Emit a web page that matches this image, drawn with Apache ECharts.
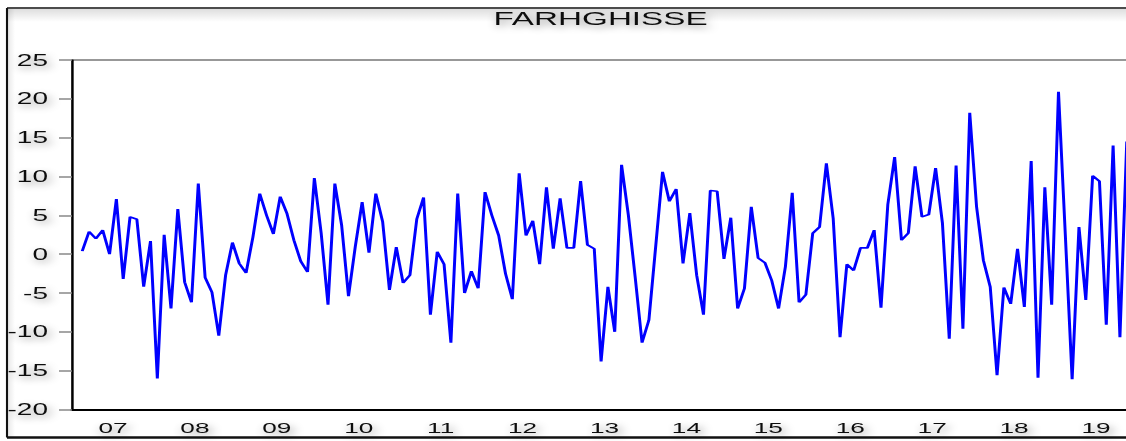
<!DOCTYPE html>
<html>
<head>
<meta charset="utf-8">
<script src="https://cdn.jsdelivr.net/npm/echarts@6/dist/echarts.min.js"></script>
<style>
html, body { margin: 0; padding: 0; overflow: hidden; background: #fff; width: 1126px; height: 441px; }
#wrap { width: 1126px; height: 441px; overflow: hidden; position: relative; }
#chart { width: 652px; height: 441px; transform: scaleX(1.75); transform-origin: 0 0; position: absolute; left: 0; top: 0; }
</style>
</head>
<body>
<div id="wrap"><div id="chart"></div></div>
<script>
// ---- data ----
const years = ['07', '08', '09', '10', '11', '12', '13', '14', '15', '16', '17', '18', '19'];
const months = [];
years.forEach(function (y) {
  for (let m = 1; m <= 12; m++) months.push('20' + y + 'M' + (m < 10 ? '0' + m : '' + m));
});
// FARHGHISSE, monthly from 2007M01 (first observation not available)
const farhghisse = [
  null, 0.4, 2.9, 2.0, 3.1, 0.0, 7.1, -3.2, 4.8, 4.5, -4.2, 1.7,
  -16.0, 2.5, -7.0, 5.8, -3.6, -6.2, 9.1, -3.0, -4.9, -10.5, -2.7, 1.5,
  -1.2, -2.4, 2.2, 7.8, 5.0, 2.6, 7.4, 5.2, 1.8, -0.9, -2.3, 9.8,
  2.7, -6.5, 9.1, 3.7, -5.4, 1.0, 6.7, 0.2, 7.8, 4.2, -4.6, 0.9,
  -3.7, -2.7, 4.5, 7.3, -7.8, 0.3, -1.3, -11.4, 7.8, -5.0, -2.2, -4.4,
  8.0, 5.0, 2.4, -2.5, -5.8, 10.4, 2.4, 4.3, -1.3, 8.6, 0.7, 7.2,
  0.8, 0.8, 9.4, 1.2, 0.7, -13.8, -4.2, -10.0, 11.5, 5.0, -3.0, -11.4,
  -8.5, 1.0, 10.6, 6.8, 8.4, -1.2, 5.3, -2.7, -7.8, 8.2, 8.1, -0.6,
  4.7, -7.0, -4.4, 6.1, -0.5, -1.1, -3.4, -7.0, -1.6, 7.9, -6.2, -5.2,
  2.7, 3.5, 11.7, 4.6, -10.7, -1.3, -2.1, 0.8, 0.8, 3.1, -6.9, 6.4,
  12.5, 1.8, 2.7, 11.3, 4.8, 5.1, 11.1, 4.0, -10.9, 11.4, -9.6, 18.2,
  6.1, -0.8, -4.2, -15.6, -4.3, -6.4, 0.7, -6.8, 12.0, -15.9, 8.6, -6.5,
  20.9, 2.5, -16.1, 3.5, -5.9, 10.1, 9.4, -9.1, 14.0, -10.7, 14.5
];
const yMin = -20, yMax = 25, yStep = 5;

// ---- chart ----
const S = 1.75; // horizontal stretch of the original picture
const W = 652;
const font = '"Liberation Sans", Arial, Helvetica, sans-serif';
const shadow = { textShadowColor: 'rgba(0,0,0,0.42)', textShadowBlur: 6, textShadowOffsetX: 1.5, textShadowOffsetY: 3 };

const chart = echarts.init(document.getElementById('chart'), null, { renderer: 'svg' });
chart.setOption({
  animation: false,
  backgroundColor: '#fff',
  title: {
    text: 'FARHGHISSE', left: 600.5 / S, top: 9, textAlign: 'center', padding: 0,
    textStyle: Object.assign({ fontFamily: font, fontSize: 19, fontWeight: 'normal', color: '#111' }, shadow)
  },
  grid: {
    left: 72 / S, right: W - 1137 / S, top: 60, bottom: 31.5,
    show: true, borderColor: '#333', borderWidth: 1, backgroundColor: '#fff'
  },
  xAxis: [
    {
      type: 'category', data: months, boundaryGap: true, position: 'bottom',
      axisLine: { onZero: false, lineStyle: { color: '#000', width: 2 } },
      axisTick: { interval: function (i) { return i % 3 === 0; }, length: 5, lineStyle: { color: '#222', width: 1 } },
      axisLabel: { show: false }, splitLine: { show: false }
    },
    {
      type: 'category', data: years, position: 'bottom', boundaryGap: true,
      axisLine: { show: false, onZero: false },
      axisTick: { interval: 0, length: 8, lineStyle: { color: '#222', width: 1 } },
      axisLabel: Object.assign({ interval: 0, fontFamily: font, fontSize: 15, color: '#111', margin: 11 }, shadow),
      splitLine: { show: false }
    }
  ],
  yAxis: {
    type: 'value', min: yMin, max: yMax, interval: yStep,
    axisLine: { show: true, onZero: false, lineStyle: { color: '#000', width: 1.2 } },
    axisTick: { show: true, length: 13 / S, lineStyle: { color: '#888', width: 1.5 } },
    axisLabel: Object.assign({ fontFamily: font, fontSize: 16, color: '#111', margin: 24 / S }, shadow),
    splitLine: { show: false }
  },
  series: [{
    name: 'FARHGHISSE', type: 'line', data: farhghisse, xAxisIndex: 0, yAxisIndex: 0,
    showSymbol: false, connectNulls: false,
    lineStyle: { color: '#0000ff', width: 1.7 }
  }],
  graphic: [
    { type: 'rect', silent: true, z: -1, shape: { x: 7 / S, y: 9, width: W, height: 13 },
      style: { fill: new echarts.graphic.LinearGradient(0, 0, 0, 1, [{ offset: 0, color: 'rgba(0,0,0,0.13)' }, { offset: 1, color: 'rgba(0,0,0,0)' }]) } },
    { type: 'rect', silent: true, z: -1, shape: { x: 7 / S, y: 9, width: 8 / S, height: 428 },
      style: { fill: new echarts.graphic.LinearGradient(0, 0, 1, 0, [{ offset: 0, color: 'rgba(0,0,0,0.10)' }, { offset: 1, color: 'rgba(0,0,0,0)' }]) } },
    { type: 'line', silent: true, shape: { x1: 7 / S, y1: 8, x2: W + 10, y2: 8 }, style: { stroke: '#111', lineWidth: 1.5 } },
    { type: 'line', silent: true, shape: { x1: 7 / S, y1: 8, x2: 7 / S, y2: 437.5 }, style: { stroke: '#111', lineWidth: 1.2 } },
    { type: 'line', silent: true, shape: { x1: 7 / S, y1: 437.5, x2: W + 10, y2: 437.5 }, style: { stroke: '#111', lineWidth: 2.5 } }
  ]
});
</script>
</body>
</html>
